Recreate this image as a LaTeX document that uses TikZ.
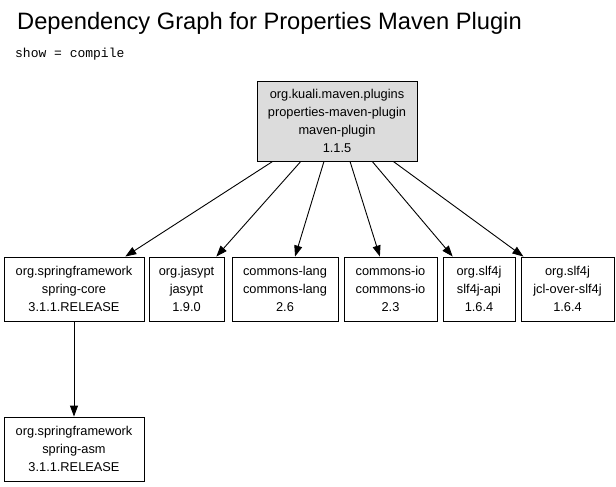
\documentclass[tikz,border=0pt]{standalone}
\usepackage{fontspec}
\setmainfont{Liberation Sans}
\newfontfamily\monof{Liberation Mono}
\usetikzlibrary{arrows.meta,calc}
\definecolor{rootfill}{RGB}{220,220,220}
\tikzset{
  dep/.style={draw=black, line width=0.9pt, fill=white, align=center, inner sep=0pt,
    font=\fontsize{12.8}{18}\selectfont, minimum height=64pt},
  rootbox/.style={dep, fill=rootfill, minimum height=80pt, minimum width=160pt},
  edge/.style={line width=0.9pt, -{Triangle[length=11pt,width=8pt]}}
}
\begin{document}
\begin{tikzpicture}[x=1pt,y=-1pt]
\useasboundingbox[fill=white] (0,0) rectangle (616,487);
\node[anchor=base west, inner sep=0pt, font=\fontsize{23.7}{28}\selectfont] (title) at (17,30) {Dependency Graph for Properties Maven Plugin};
\node[anchor=base west, inner sep=0pt, font=\monof\fontsize{13}{16}\selectfont] (show) at (15,58) {show = compile};

\node[rootbox] (root) at (337,121) {org.kuali.maven.plugins\\properties-maven-plugin\\maven-plugin\\1.1.5};

\node[dep, minimum width=140pt] (core) at (74,289) {org.springframework\\spring-core\\3.1.1.RELEASE};
\node[dep, minimum width=75pt] (jasypt) at (186.5,289) {org.jasypt\\jasypt\\1.9.0};
\node[dep, minimum width=106pt] (lang) at (285,289) {commons-lang\\commons-lang\\2.6};
\node[dep, minimum width=93pt] (io) at (390.5,289) {commons-io\\commons-io\\2.3};
\node[dep, minimum width=72pt] (api) at (479,289) {org.slf4j\\slf4j-api\\1.6.4};
\node[dep, minimum width=93pt] (jcl) at (567.5,289) {org.slf4j\\jcl-over-slf4j\\1.6.4};
\node[dep, minimum width=140pt] (asm) at (74,449) {org.springframework\\spring-asm\\3.1.1.RELEASE};

\draw[edge] ($(root.south west)!0.10!(root.south east)$) -- ($(core.north west)!0.864!(core.north east)$);
\draw[edge] ($(root.south west)!0.275!(root.south east)$) -- ($(jasypt.north west)!0.893!(jasypt.north east)$);
\draw[edge] ($(root.south west)!0.419!(root.south east)$) -- ($(lang.north west)!0.594!(lang.north east)$);
\draw[edge] ($(root.south west)!0.581!(root.south east)$) -- ($(io.north west)!0.387!(io.north east)$);
\draw[edge] ($(root.south west)!0.719!(root.south east)$) -- ($(api.north west)!0.139!(api.north east)$);
\draw[edge] ($(root.south west)!0.85!(root.south east)$) -- ($(jcl.north west)!0.03!(jcl.north east)$);
\draw[edge] (core) -- (asm);
\end{tikzpicture}
\end{document}
